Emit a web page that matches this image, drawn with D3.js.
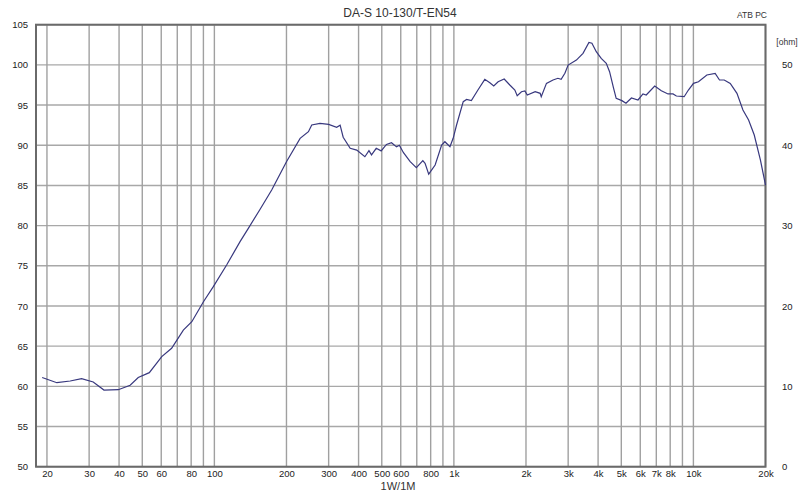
<!DOCTYPE html>
<html><head><meta charset="utf-8">
<script src="https://cdn.jsdelivr.net/npm/d3@7"></script>
<style>body{margin:0;background:#fff}svg{display:block;font-family:"Liberation Sans",Arial,sans-serif}</style>
</head><body><svg id="c" width="800" height="495"></svg>
<script>
const title = "DA-S 10-130/T-EN54";
const cornerLabel = "ATB PC";
const xAxisLabel = "1W/1M";
const rightUnit = "[ohm]";
const yTicks = [50,55,60,65,70,75,80,85,90,95,100,105];
const ohmTicks = [0,10,20,30,40,50];
const gridFreqs = [20,30,40,50,60,70,80,90,100,200,300,400,500,600,700,800,900,1000,2000,3000,4000,5000,6000,7000,8000,9000,10000,20000];
const labelFreqs = [20,30,40,50,60,80,100,200,300,400,500,600,800,1000,2000,3000,4000,5000,6000,7000,8000,10000,20000];
const freq = [19.1,22,25,27.9,31.2,34.6,39.7,44.5,48.1,53.5,60.3,66.3,74.2,80.5,89.9,99,112.5,128,138.6,155,173.5,200,228,247,255,276,300,324,335,345,369,393,425,442,453,474,497,523,549,576,592,616,657,697,742,758,785,835,889,917,963,993,1026,1094,1130,1183,1260,1346,1413,1467,1530,1622,1712,1797,1838,1915,1979,2025,2185,2292,2316,2435,2594,2718,2804,2907,2999,3247,3460,3663,3770,3931,4122,4327,4467,4644,4760,5030,5229,5512,5871,6158,6355,6894,7348,7835,8220,8490,9150,9530,10010,10500,11380,12330,12850,13450,14250,15200,16100,17000,17950,19050,20000];
const spl = [61.1,60.45,60.66,60.95,60.54,59.54,59.58,60.13,61.1,61.7,63.7,64.73,67.0,68.04,70.5,72.4,75.1,78.0,79.66,82.0,84.43,87.95,90.86,91.69,92.52,92.73,92.6,92.23,92.5,91.0,89.62,89.4,88.57,89.32,88.8,89.62,89.3,90.1,90.32,89.8,90.0,89.07,87.95,87.2,88.08,87.75,86.4,87.54,90.03,90.44,89.82,90.86,92.52,95.42,95.7,95.55,96.87,98.2,97.78,97.37,97.9,98.24,97.5,96.87,96.17,96.66,96.75,96.25,96.66,96.46,96.04,97.7,98.12,98.33,98.2,98.95,99.98,100.6,101.44,102.8,102.7,101.64,100.8,100.2,99.15,97.08,95.84,95.55,95.22,95.88,95.63,96.38,96.25,97.37,96.79,96.38,96.38,96.13,96.04,96.87,97.7,97.9,98.74,98.95,98.12,98.12,97.7,96.46,94.38,93.14,91.27,88.16,85.05];

const svg = d3.select("#c");
const L=36, R=765.5, T=24.7, B=466.7;
const x = d3.scaleLog().domain([18,20000]).range([L,R]);
const y = d3.scaleLinear().domain([50,105]).range([B,T]);
const yo = d3.scaleLinear().domain([0,55]).range([B,T]);
const fmt = f => f>=1000 ? (f/1000)+"k" : String(f);

const g = svg.append("g");
g.selectAll("line.h").data(yTicks).join("line")
 .attr("x1",L).attr("x2",R).attr("y1",d=>y(d)).attr("y2",d=>y(d))
 .attr("stroke","#a8a8a8").attr("stroke-width",1.4);
g.selectAll("line.v").data(gridFreqs).join("line")
 .attr("x1",d=>x(d)).attr("x2",d=>x(d)).attr("y1",T).attr("y2",B)
 .attr("stroke","#a0a0a0").attr("stroke-width",1.4);

// frame
svg.append("rect").attr("x",L).attr("y",T).attr("width",R-L).attr("height",B-T)
 .attr("fill","none").attr("stroke","#6a6a6a").attr("stroke-width",2);

// left axis
const ya = d3.axisLeft(y).tickValues(yTicks).tickSize(0).tickPadding(0);
svg.append("g").attr("transform",`translate(${L-8},0)`).call(ya)
 .call(s=>s.select(".domain").remove())
 .selectAll("text").attr("font-size",9.5).attr("fill","#222").attr("font-family","Liberation Sans, Arial, sans-serif");

// right axis
const yr = d3.axisRight(yo).tickValues(ohmTicks).tickSize(0).tickPadding(0);
svg.append("g").attr("transform",`translate(782,0)`).call(yr)
 .call(s=>s.select(".domain").remove())
 .selectAll("text").attr("font-size",9.5).attr("fill","#222").attr("font-family","Liberation Sans, Arial, sans-serif");

// bottom axis
const xa = d3.axisBottom(x).tickValues(labelFreqs).tickFormat(fmt).tickSize(0).tickPadding(0);
svg.append("g").attr("transform",`translate(0,${B+4})`).call(xa)
 .call(s=>s.select(".domain").remove())
 .selectAll("text").attr("font-size",9.5).attr("fill","#222").attr("font-family","Liberation Sans, Arial, sans-serif");

// curve
const pts = freq.map((f,i)=>[f,spl[i]]);
svg.append("path").datum(pts)
 .attr("d", d3.line().x(d=>x(d[0])).y(d=>y(d[1])))
 .attr("fill","none").attr("stroke","#38387e").attr("stroke-width",1.2);

// texts
svg.append("text").attr("x",400).attr("y",17).attr("text-anchor","middle")
 .attr("font-size",12).attr("fill","#333").text(title);
svg.append("text").attr("x",767).attr("y",18).attr("text-anchor","end")
 .attr("font-size",8.5).attr("fill","#333").text(cornerLabel);
svg.append("text").attr("x",787).attr("y",45).attr("text-anchor","middle")
 .attr("font-size",8.5).attr("fill","#333").text(rightUnit);
svg.append("text").attr("x",398).attr("y",490).attr("text-anchor","middle")
 .attr("font-size",11).attr("fill","#333").text(xAxisLabel);
</script></body></html>
